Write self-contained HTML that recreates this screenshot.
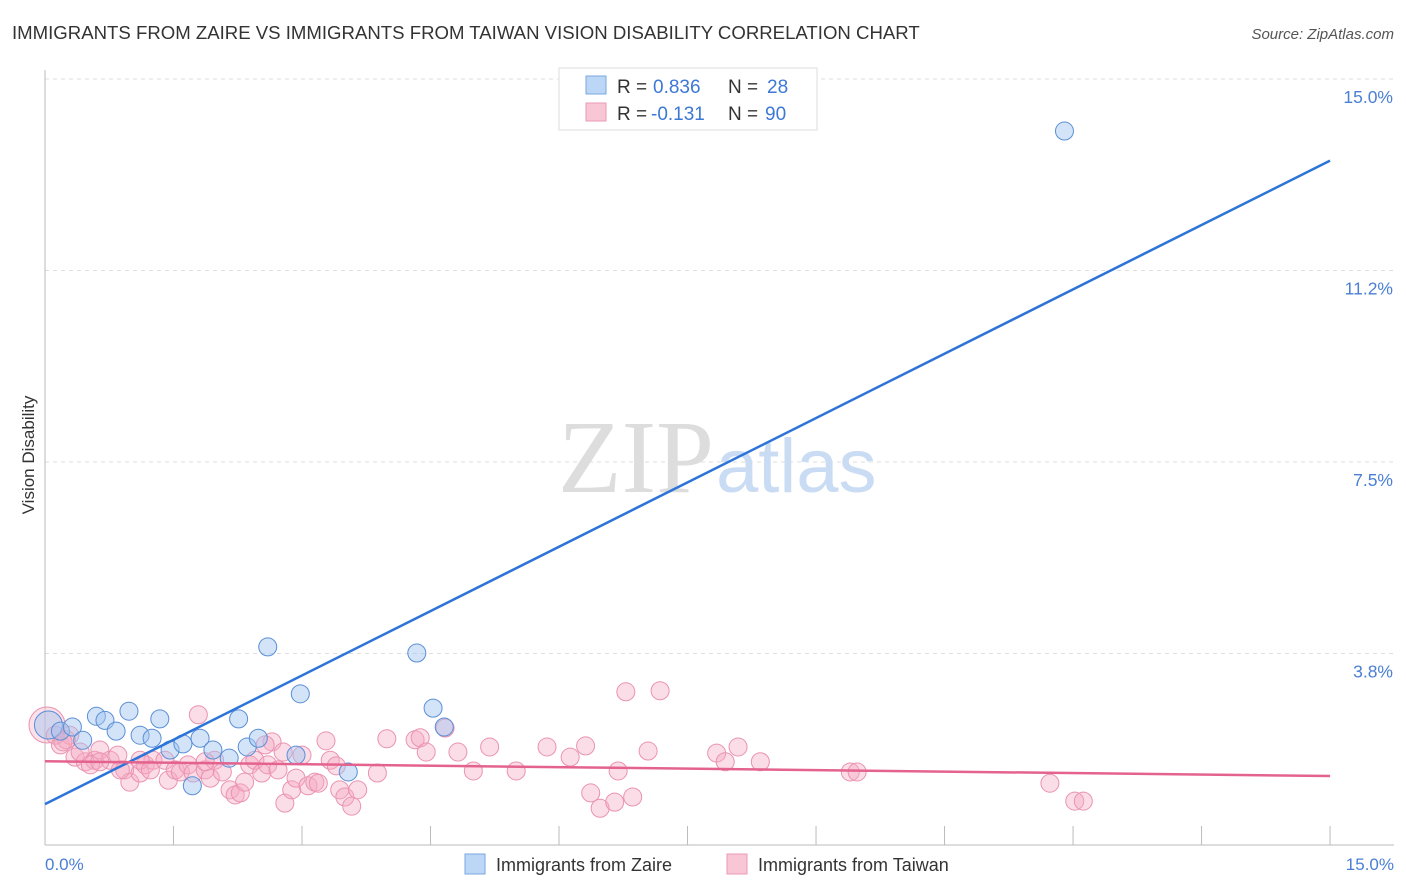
<!DOCTYPE html>
<html><head><meta charset="utf-8"><style>
body{margin:0;background:#fff;font-family:"Liberation Sans",sans-serif}
svg{display:block}
</style></head><body>
<svg width="1406" height="892">
<text x="12" y="39" font-size="18.6" fill="#333">IMMIGRANTS FROM ZAIRE VS IMMIGRANTS FROM TAIWAN VISION DISABILITY CORRELATION CHART</text>
<text x="1394" y="39" font-size="15" fill="#555" font-style="italic" text-anchor="end">Source: ZipAtlas.com</text>
<g id="grid"></g>
<text x="714" y="492" font-size="104" fill="#ddd" text-anchor="end" font-family="Liberation Serif,serif">ZIP</text>
<text x="716" y="492" font-size="76" fill="#c9dcf4">atlas</text>
<line x1="45" y1="70" x2="45" y2="845" stroke="#bbb"/>
<line x1="45" y1="845" x2="1394" y2="845" stroke="#bbb"/>
<text x="34" y="455" font-size="17" fill="#333" text-anchor="middle" transform="rotate(-90 34 455)">Vision Disability</text>
<text x="45" y="870" font-size="17" fill="#4a7fd4">0.0%</text>
<text x="1394" y="870" font-size="17" fill="#4a7fd4" text-anchor="end">15.0%</text>
<g id="pts"></g>
<g id="lines"></g>
<g>
<rect x="559" y="68" width="258" height="62" fill="#fff" stroke="#ddd"/>
<rect x="586" y="76" width="20" height="18" fill="#bcd6f5" stroke="#7aa7e0"/>
<rect x="586" y="103" width="20" height="18" fill="#f9c6d6" stroke="#eb9ab5"/>
<text x="617" y="93" font-size="19" fill="#333">R =</text>
<text x="653" y="93" font-size="19" fill="#3d78d6">0.836</text>
<text x="728" y="93" font-size="19" fill="#333">N =</text>
<text x="767" y="93" font-size="19" fill="#3d78d6">28</text>
<text x="617" y="120" font-size="19" fill="#333">R =</text>
<text x="651" y="120" font-size="19" fill="#3d78d6">-0.131</text>
<text x="728" y="120" font-size="19" fill="#333">N =</text>
<text x="765" y="120" font-size="19" fill="#3d78d6">90</text>
</g>
<g><rect x="465" y="854" width="20" height="20" fill="#bcd6f5" stroke="#7aa7e0"/><text x="496" y="871" font-size="18" fill="#333">Immigrants from Zaire</text></g>
<g><rect x="727" y="854" width="20" height="20" fill="#f9c6d6" stroke="#eb9ab5"/><text x="758" y="871" font-size="18" fill="#333">Immigrants from Taiwan</text></g>
</svg>
<script>
const yTicks=[3.75,7.5,11.25,15];
const yTickLabels=["3.8%","7.5%","11.2%","15.0%"];
const xTicks=[1.5,3,4.5,6,7.5,9,10.5,12,13.5,15];
const zaireX=[0.04,0.18,0.32,0.44,0.6,0.7,0.83,0.98,1.11,1.25,1.34,1.46,1.61,1.72,1.81,1.96,2.15,2.26,2.36,2.49,2.6,2.93,2.98,3.54,4.34,4.53,4.66,11.9];
const zaireY=[2.35,2.23,2.31,2.05,2.52,2.44,2.23,2.62,2.15,2.09,2.47,1.86,1.98,1.16,2.09,1.86,1.7,2.47,1.92,2.09,3.88,1.76,2.96,1.43,3.76,2.68,2.31,13.98];
const taiwanX=[0.18,0.29,0.25,0.35,0.47,0.58,0.64,0.76,0.85,0.93,0.99,1.11,1.17,1.26,1.40,1.44,1.52,1.58,1.67,1.73,1.79,1.87,1.93,1.98,2.07,2.16,2.22,2.28,2.33,2.39,2.45,2.53,2.60,2.65,2.72,2.80,2.88,2.93,3.00,3.07,3.15,3.19,3.28,3.33,3.40,3.44,3.50,3.58,3.65,3.88,3.99,4.32,4.38,4.45,4.82,5.00,5.19,5.50,5.86,6.13,6.31,6.37,6.48,6.65,6.69,6.78,6.86,7.04,7.18,7.84,7.94,8.09,8.35,9.40,9.48,11.73,12.02,12.12,4.67,0.12,0.41,0.53,0.88,1.11,1.23,2.57,2.78,0.21,0.64,1.87];
const taiwanY=[1.96,2.15,2.06,1.72,1.63,1.66,1.86,1.66,1.76,1.47,1.23,1.41,1.57,1.66,1.66,1.27,1.47,1.43,1.57,1.41,2.55,1.47,1.31,1.66,1.43,1.08,0.98,1.02,1.23,1.57,1.66,1.41,1.57,2.02,1.47,0.82,1.08,1.31,1.76,1.16,1.23,1.21,2.04,1.66,1.55,1.08,0.94,0.76,1.08,1.41,2.08,2.06,2.10,1.82,1.82,1.45,1.92,1.45,1.92,1.72,1.94,1.02,0.72,0.84,1.45,3.00,0.94,1.84,3.02,1.80,1.63,1.92,1.63,1.43,1.43,1.21,0.86,0.86,2.29,2.15,1.82,1.57,1.47,1.66,1.47,1.96,1.82,2.02,1.63,1.63];
const zaireLine=[0,0.8,15,13.4];
const taiwanLine=[0,1.64,15,1.35];
const X=v=>45+v*85.67, Y=v=>845-v*51.07;
const NS="http://www.w3.org/2000/svg";
const grid=document.getElementById('grid'), pts=document.getElementById('pts'), lines=document.getElementById('lines');
function mk(t,a,p){const e=document.createElementNS(NS,t);for(const k in a)e.setAttribute(k,a[k]);p.appendChild(e);return e;}
yTicks.forEach((v,i)=>{
 const l=mk('line',{x1:45,x2:1394,y1:Y(v),y2:Y(v),stroke:'#ddd','stroke-dasharray':'4,4'},grid);
 
 
 const t=mk('text',{x:1393,y:Y(v)+24,'font-size':17.5,fill:'#4a7fd4','text-anchor':'end'},grid);
 t.textContent=yTickLabels[i];
 
 
});
xTicks.forEach(v=>{
 const l=mk('line',{x1:X(v),x2:X(v),y1:826,y2:845,stroke:'#bbb'},grid);
 
 
});
const big=mk('circle',{cx:47,cy:725,r:18,fill:'rgba(245,170,196,0.35)',stroke:'#ea93b0'},pts);


taiwanX.forEach((x,i)=>{
 const c=mk('circle',{cx:X(x),cy:Y(taiwanY[i]),r:9,fill:'rgba(245,170,196,0.4)',stroke:'#ea93b0','stroke-width':1},pts);
 
 
});
zaireX.forEach((x,i)=>{
 const c=mk('circle',{cx:X(x),cy:Y(zaireY[i]),r:i===0?14:9,fill:'rgba(160,196,240,0.45)',stroke:'#5b8fd6','stroke-width':1},pts);
 
 
});
const l1=mk('line',{x1:X(zaireLine[0]),y1:Y(zaireLine[1]),x2:X(zaireLine[2]),y2:Y(zaireLine[3]),stroke:'#2d74d8','stroke-width':2.5},lines);


const l2=mk('line',{x1:X(taiwanLine[0]),y1:Y(taiwanLine[1]),x2:X(taiwanLine[2]),y2:Y(taiwanLine[3]),stroke:'#e4638e','stroke-width':2.5},lines);


</script>
</body></html>
